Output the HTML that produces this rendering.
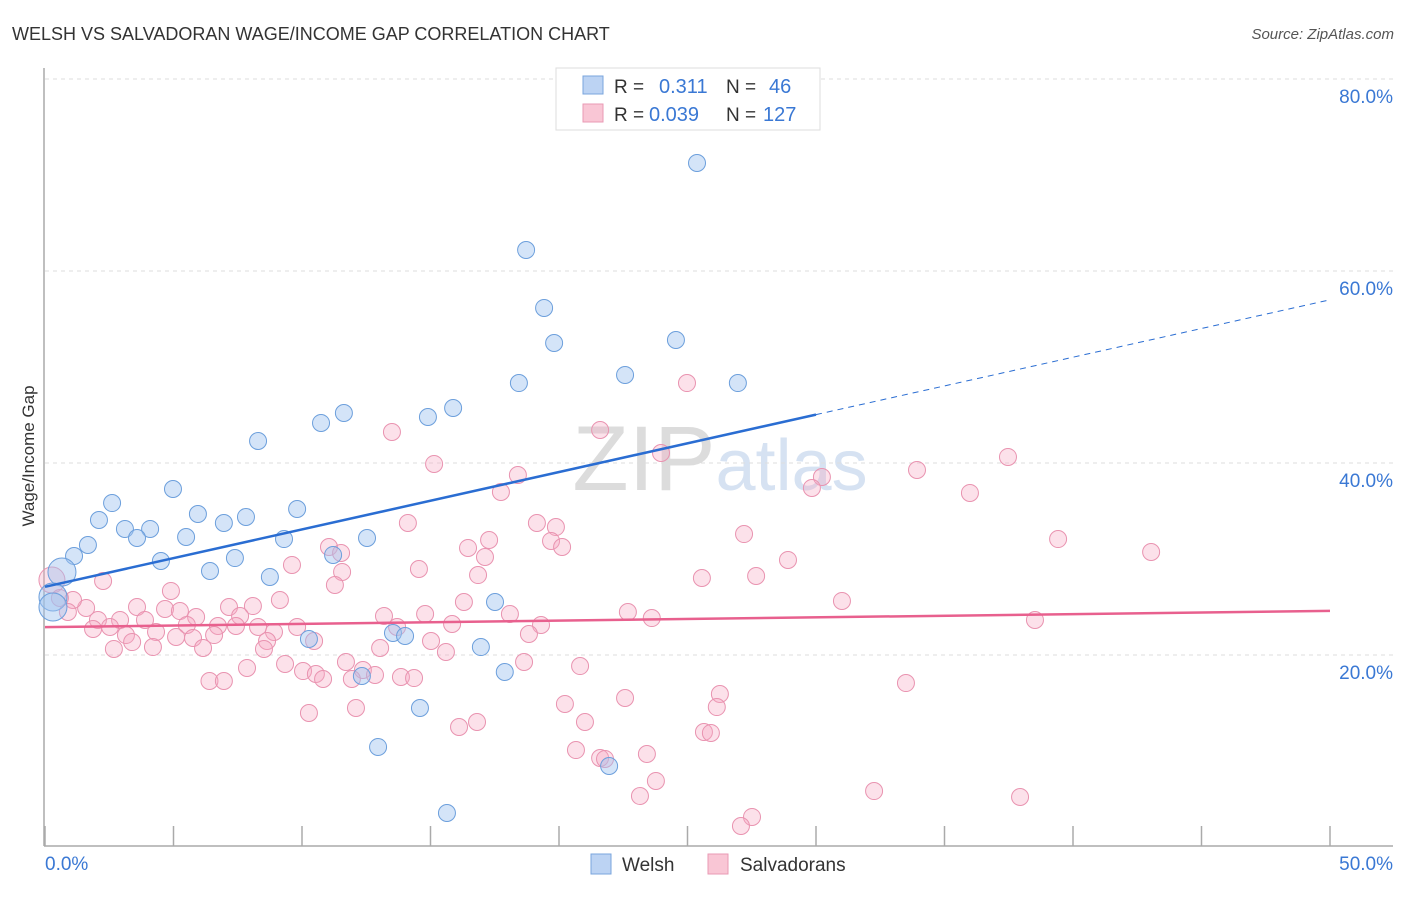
<!DOCTYPE html>
<html><head><meta charset="utf-8"><style>
body{margin:0;background:#fff;font-family:"Liberation Sans",sans-serif;}
svg text{font-family:"Liberation Sans",sans-serif;}
</style></head><body>
<svg id="chart" width="1406" height="892" viewBox="0 0 1406 892" xmlns="http://www.w3.org/2000/svg">
<text x="12" y="40" font-size="18" fill="#333">WELSH VS SALVADORAN WAGE/INCOME GAP CORRELATION CHART</text>
<text x="1394" y="39" font-size="15" fill="#555" text-anchor="end" font-style="italic">Source: ZipAtlas.com</text>
<text x="720" y="490" font-size="92" fill="#e4e4e4" text-anchor="middle" font-family="Liberation Serif"><tspan fill="#dcdcdc">ZIP</tspan><tspan fill="#d6e2f2" font-family="Liberation Sans" font-size="72">atlas</tspan></text>
<text transform="translate(34,456) rotate(-90)" font-size="17" fill="#333" text-anchor="middle">Wage/Income Gap</text>
<g id="grid"></g>
<g id="axes"></g>
<g id="pts"></g>
<g id="lines"></g>
<g>
<rect x="556" y="68" width="264" height="62" fill="#fff" stroke="#ddd"/>
<rect x="583" y="76" width="20" height="18" fill="#bcd3f3" stroke="#7aa5dd"/>
<rect x="583" y="104" width="20" height="18" fill="#f9c6d5" stroke="#e99ab4"/>
<text x="614" y="93" font-size="19" fill="#333">R = </text><text x="659" y="93" font-size="20" fill="#3a78d4">0.311</text>
<text x="726" y="93" font-size="19" fill="#333">N = </text><text x="769" y="93" font-size="20" fill="#3a78d4">46</text>
<text x="614" y="121" font-size="19" fill="#333">R = </text><text x="649" y="121" font-size="20" fill="#3a78d4">0.039</text>
<text x="726" y="121" font-size="19" fill="#333">N = </text><text x="763" y="121" font-size="20" fill="#3a78d4">127</text>
</g>
<g>
<rect x="591" y="854" width="20" height="20" fill="#bcd3f3" stroke="#7aa5dd"/>
<text x="622" y="871" font-size="19" fill="#333">Welsh</text>
<rect x="708" y="854" width="20" height="20" fill="#f9c6d5" stroke="#e99ab4"/>
<text x="740" y="871" font-size="19" fill="#333">Salvadorans</text>
</g>
</svg>
<script>
const xTicks=[0,5,10,15,20,25,30,35,40,45,50];
const yTicks=[20,40,60,80];
const xLabels=["0.0%","50.0%"];
const welshX=[25.37,18.72,19.42,19.81,24.55,22.57,18.44,26.96,15.88,14.9,11.63,10.74,8.29,4.98,2.61,2.1,3.11,4.09,3.58,5.95,6.96,7.82,9.81,5.49,9.3,12.53,1.67,1.13,4.51,7.39,11.21,6.42,0.66,8.75,0.31,0.31,17.51,13.54,14.01,10.27,16.96,17.89,12.33,14.59,12.96,21.95,15.64];
const welshY=[71.25,62.19,56.15,52.5,52.81,49.17,48.33,48.33,45.73,44.79,45.21,44.17,42.29,37.29,35.83,34.06,33.13,33.13,32.19,34.69,33.75,34.38,35.21,32.29,32.08,32.19,31.46,30.31,29.79,30.1,30.42,28.75,28.65,28.13,26.04,25.0,25.52,22.29,21.98,21.67,20.83,18.23,17.81,14.48,10.42,8.44,3.54];
const welshBig=[32,34,35];
const salvX=[24.98,21.6,13.5,15.14,23.97,37.47,33.93,30.23,29.84,35.99,18.4,17.74,14.12,19.14,19.88,27.2,39.42,43.04,19.69,20.12,17.28,16.46,17.12,11.05,11.52,28.91,9.61,14.55,16.85,11.56,11.28,25.56,27.67,2.26,4.9,0.27,9.14,31.01,16.3,22.68,23.61,38.52,3.58,4.67,5.25,5.88,7.16,8.09,7.59,3.89,2.92,2.06,2.53,1.87,1.6,1.09,0.58,0.89,5.52,6.73,7.43,8.29,8.91,9.81,13.19,14.79,15.84,18.09,19.3,13.7,4.32,3.15,5.1,5.76,6.58,8.64,10.47,18.83,15.02,3.39,4.2,2.68,6.15,8.52,13.04,15.6,9.34,11.71,18.64,20.82,7.86,10.04,10.54,12.37,11.94,10.82,12.84,13.85,14.36,6.4,6.96,33.5,26.26,22.57,26.14,20.23,12.1,10.27,21.01,16.81,16.11,25.64,25.91,20.66,23.42,21.6,21.79,23.77,23.15,32.26,37.94,27.51,27.08];
const salvY=[48.33,43.44,43.23,39.9,41.04,40.63,39.27,38.54,37.4,36.88,38.75,36.98,33.75,33.75,33.33,32.6,32.08,30.73,31.88,31.25,31.98,31.15,30.21,31.25,30.63,29.9,29.38,28.96,28.33,28.65,27.29,28.02,28.23,27.71,26.67,27.81,25.73,25.63,25.52,24.48,23.85,23.65,25.0,24.79,24.58,23.96,25.0,25.1,24.06,23.65,23.65,23.65,22.92,22.71,24.9,25.73,25.94,24.48,23.13,23.02,23.02,22.92,22.4,22.92,24.06,24.27,23.23,24.27,23.13,22.92,22.4,22.08,21.88,21.77,22.08,21.46,21.46,22.19,21.46,21.35,20.83,20.63,20.73,20.63,20.73,20.31,19.06,19.27,19.27,18.85,18.65,18.33,18.02,18.44,17.5,17.5,17.92,17.71,17.6,17.29,17.29,17.08,15.94,15.52,14.58,14.9,14.48,13.96,13.02,13.02,12.5,11.98,11.88,10.1,9.69,9.27,9.17,6.88,5.31,5.83,5.21,3.13,2.19];
const salvBig=[35];
const welshTrend=[27.1,57.0];
const salvTrend=[22.9,24.6];
const welshSolidEnd=30;

const NS="http://www.w3.org/2000/svg";
const X=v=>45+v*25.7, Y=v=>847-v*9.6;
function mk(tag,attrs,parent){const e=document.createElementNS(NS,tag);for(const k in attrs)e.setAttribute(k,attrs[k]);parent.appendChild(e);return e;}
const grid=document.getElementById('grid'),axes=document.getElementById('axes'),pts=document.getElementById('pts'),lines=document.getElementById('lines');
yTicks.forEach(t=>{
 const l=mk('line',{x1:45,x2:1393,y1:Y(t),y2:Y(t),stroke:'#ddd','stroke-dasharray':'4,4'},grid);
 
 
 const tx=mk('text',{x:1393,y:Y(t)+24,'font-size':19,fill:'#3a78d4','text-anchor':'end'},grid);
 tx.textContent=t.toFixed(1)+'%';
 
 
});
const ya=mk('line',{x1:44,x2:44,y1:68,y2:846,stroke:'#aaa','stroke-width':1.5},axes);


const xa=mk('line',{x1:44,x2:1393,y1:846,y2:846,stroke:'#aaa','stroke-width':1.5},axes);


xTicks.forEach(t=>{
 const l=mk('line',{x1:X(t),x2:X(t),y1:826,y2:846,stroke:'#aaa','stroke-width':1.5},axes);
 
 
});
const xl0=mk('text',{x:45,y:870,'font-size':19,fill:'#3a78d4'},axes);xl0.textContent=xLabels[0];


const xl1=mk('text',{x:1393,y:870,'font-size':19,fill:'#3a78d4','text-anchor':'end'},axes);xl1.textContent=xLabels[1];


salvX.forEach((v,i)=>{
 const c=mk('circle',{cx:X(v),cy:Y(salvY[i]),r:salvBig.includes(i)?13:8.5,fill:'rgba(246,170,195,0.35)',stroke:'#e993b0','stroke-width':1},pts);
 
 
});
welshX.forEach((v,i)=>{
 const c=mk('circle',{cx:X(v),cy:Y(welshY[i]),r:welshBig.includes(i)?14:8.5,fill:'rgba(160,195,240,0.45)',stroke:'#6c9fdc','stroke-width':1},pts);
 
 
});
const wy=x=>welshTrend[0]+(welshTrend[1]-welshTrend[0])*x/50;
const w1=mk('line',{x1:X(0),y1:Y(wy(0)),x2:X(welshSolidEnd),y2:Y(wy(welshSolidEnd)),stroke:'#2a6dd2','stroke-width':2.5},lines);


const w2=mk('line',{x1:X(welshSolidEnd),y1:Y(wy(welshSolidEnd)),x2:X(50),y2:Y(wy(50)),stroke:'#2a6dd2','stroke-width':1,'stroke-dasharray':'6,5'},lines);


const s1=mk('line',{x1:X(0),y1:Y(salvTrend[0]),x2:X(50),y2:Y(salvTrend[1]),stroke:'#e8608e','stroke-width':2.5},lines);


</script>
</body></html>
